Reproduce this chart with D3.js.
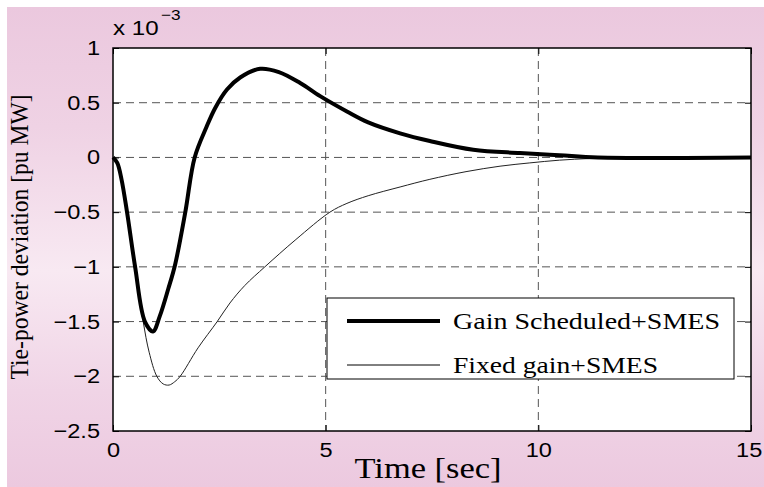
<!DOCTYPE html>
<html>
<head>
<meta charset="utf-8">
<script src="https://cdn.jsdelivr.net/npm/d3@7"></script>
<style>
 body{margin:0;background:#fff;}
 #chartDiv{width:764px;height:487px;}
</style>
</head>
<body>
<div id="chartDiv"></div>
<script>
//Chart values (units of 1e-3 pu MW)
var seriesNames = ["Gain Scheduled+SMES", "Fixed gain+SMES"];
var timeGS  = [0, 0.1, 0.2, 0.33, 0.52, 0.75, 0.94, 1.1, 1.3, 1.46, 1.7, 1.92, 2.2, 2.4, 2.68, 2.99, 3.46, 3.9, 4.4, 4.87, 5.5, 6.0, 6.75, 7.45, 8.47, 9.57, 10.5, 11.4, 15];
var valueGS = [0, -0.05, -0.2, -0.5, -1.0, -1.5, -1.59, -1.45, -1.2, -0.98, -0.5, 0, 0.28, 0.45, 0.62, 0.73, 0.81, 0.78, 0.68, 0.56, 0.42, 0.32, 0.22, 0.15, 0.07, 0.04, 0.02, 0, 0];
var timeFG  = [0, 0.1, 0.2, 0.33, 0.52, 0.71, 0.85, 1.03, 1.18, 1.32, 1.45, 1.58, 2.0, 2.45, 2.75, 3.1, 3.57, 4.3, 5.1, 5.5, 6.0, 6.75, 7.45, 8.3, 9.1, 9.8, 10.5, 11.2, 12, 15];
var valueFG = [0, -0.05, -0.2, -0.5, -1.0, -1.5, -1.78, -2.0, -2.07, -2.08, -2.05, -2.0, -1.74, -1.5, -1.33, -1.17, -1.0, -0.75, -0.5, -0.42, -0.35, -0.27, -0.2, -0.13, -0.08, -0.05, -0.025, -0.01, 0, 0];
var xTicks = [0, 5, 10, 15];
var yTicks = [-2.5, -2, -1.5, -1, -0.5, 0, 0.5, 1];

var margin = {top: 48, right: 13, bottom: 56, left: 113};
var W = 764, H = 487;
var width  = W - margin.left - margin.right;
var height = H - margin.top - margin.bottom;
var serif = '"Liberation Serif","Times New Roman",serif';
var sans  = '"Liberation Sans",Arial,sans-serif';
var stretch = 1.15;			//figure looks widened horizontally

var svgRoot = d3.select("#chartDiv").append("svg")
 .attr("width", W).attr("height", H);

//Pink backdrop with lighter band in the middle
var defs = svgRoot.append("defs");
var bg = defs.append("linearGradient").attr("id","bgGrad")
 .attr("x1","0").attr("y1","0").attr("x2","0").attr("y2","1");
bg.append("stop").attr("offset","0%").attr("stop-color","#ebc8de");
bg.append("stop").attr("offset","25%").attr("stop-color","#efd2e4");
bg.append("stop").attr("offset","55%").attr("stop-color","#f8e9f2");
bg.append("stop").attr("offset","80%").attr("stop-color","#f0d4e6");
bg.append("stop").attr("offset","100%").attr("stop-color","#ecc9df");
svgRoot.append("rect").attr("x",7).attr("y",7).attr("width",W-7).attr("height",H-7)
 .attr("fill","url(#bgGrad)");

var svg = svgRoot.append("g")
 .attr("transform","translate(" + margin.left + "," + margin.top + ")");

var xScale = d3.scaleLinear().domain([0, 15]).range([0, width]);
var yScale = d3.scaleLinear().domain([-2.5, 1]).range([height, 0]);

svg.append("rect")			//White plot area
 .attr("width", width).attr("height", height).attr("fill","#fff");

//Dashed grid
svg.append("g").selectAll("line")
 .data(yTicks.filter(function(d){ return d > -2.5 && d < 1; }))
 .enter().append("line")
 .attr("x1",0).attr("x2",width)
 .attr("y1",function(d){ return yScale(d); }).attr("y2",function(d){ return yScale(d); })
 .attr("stroke","#555").attr("stroke-width",1).attr("stroke-dasharray","8,5");
svg.append("g").selectAll("line")
 .data(xTicks.filter(function(d){ return d > 0 && d < 15; }))
 .enter().append("line")
 .attr("y1",0).attr("y2",height)
 .attr("x1",function(d){ return xScale(d); }).attr("x2",function(d){ return xScale(d); })
 .attr("stroke","#555").attr("stroke-width",1).attr("stroke-dasharray","8,5");

//Curves
function toPoints(ts, vs){
 return ts.map(function(t,i){ return {t: t, v: vs[i]}; });
}
var line = d3.line()
 .x(function(d){ return xScale(d.t); })
 .y(function(d){ return yScale(d.v); })
 .curve(d3.curveCatmullRom.alpha(0.5));

svg.append("path").datum(toPoints(timeFG, valueFG))
 .attr("d", line).attr("fill","none").attr("stroke","#222").attr("stroke-width",1);
svg.append("path").datum(toPoints(timeGS, valueGS))
 .attr("d", line).attr("fill","none").attr("stroke","#000").attr("stroke-width",4)
 .attr("stroke-linejoin","round");

//Axes, ticks inside on all four sides
function styleAxis(g){
 g.select(".domain").remove();
 g.selectAll(".tick line").attr("stroke","#000");
}
var xAxisG = svg.append("g").attr("transform","translate(0," + height + ")")
 .call(d3.axisBottom(xScale).tickValues(xTicks).tickSize(-6).tickPadding(11).tickFormat(d3.format("d")))
 .call(styleAxis);
svg.append("g")
 .call(d3.axisTop(xScale).tickValues(xTicks).tickSize(-6).tickFormat(""))
 .call(styleAxis);
var yAxisG = svg.append("g")
 .call(d3.axisLeft(yScale).tickValues(yTicks).tickSize(-6).tickPadding(11)
  .tickFormat(function(d){ return d3.format("")(d).replace("-","\u2212"); }))
 .call(styleAxis);
svg.append("g").attr("transform","translate(" + width + ",0)")
 .call(d3.axisRight(yScale).tickValues(yTicks).tickSize(-6).tickFormat(""))
 .call(styleAxis);
svg.selectAll(".tick text")
 .attr("font-family", sans).attr("font-size", 20.5).attr("fill","#000")
 .attr("transform","scale(" + stretch + ",1)");
yAxisG.selectAll(".tick text").attr("x", -13 / stretch);
xAxisG.selectAll(".tick text").filter(function(d){ return d === 15; })
 .attr("x", -2);			//keep last label inside the page

svg.append("rect")			//Frame
 .attr("width", width).attr("height", height)
 .attr("fill","none").attr("stroke","#000").attr("stroke-width",1.5);

//Exponent label
var expo = svg.append("text").attr("x",0).attr("y",-13)
 .attr("transform","scale(" + stretch + ",1)")
 .attr("font-family", sans).attr("font-size", 21);
expo.append("tspan").text("x 10");
expo.append("tspan").attr("dy",-15).attr("dx",2).attr("font-size", 15).text("\u22123");

//Axis titles
svgRoot.append("text")
 .attr("x", 428).attr("y", 478)
 .attr("text-anchor","middle")
 .attr("textLength",147).attr("lengthAdjust","spacingAndGlyphs")
 .attr("font-family", serif).attr("font-size", 30)
 .text("Time [sec]");
svgRoot.append("text")
 .attr("transform","translate(28,237)rotate(-90)")
 .attr("text-anchor","middle")
 .attr("textLength",285).attr("lengthAdjust","spacingAndGlyphs")
 .attr("font-family", serif).attr("font-size", 25)
 .text("Tie-power deviation [pu MW]");

//Legend
var legend = svgRoot.append("g");
legend.append("rect").attr("x",327).attr("y",298).attr("width",407).attr("height",81)
 .attr("fill","#fff").attr("stroke","#000").attr("stroke-width",1);
var legendRows = [
 {name: seriesNames[0], w: 4, y: 321, len: 267},
 {name: seriesNames[1], w: 1, y: 365, len: 205}
];
legendRows.forEach(function(r){
 legend.append("line").attr("x1",347).attr("x2",440).attr("y1",r.y).attr("y2",r.y)
  .attr("stroke","#000").attr("stroke-width",r.w);
 legend.append("text").attr("x",453).attr("y",r.y + 8)
  .attr("textLength",r.len).attr("lengthAdjust","spacingAndGlyphs")
  .attr("font-family", serif).attr("font-size", 24)
  .text(r.name);
});
</script>
</body>
</html>
